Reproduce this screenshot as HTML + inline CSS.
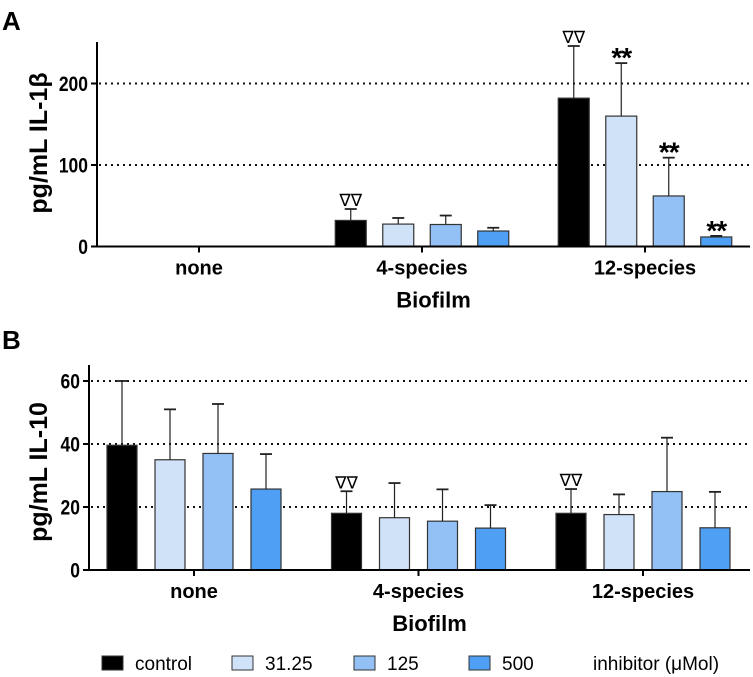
<!DOCTYPE html>
<html><head><meta charset="utf-8"><style>
html,body{margin:0;padding:0;background:#fff;}
svg{display:block;font-family:"Liberation Sans",Arial,sans-serif;}
</style></head><body>
<svg id="fig" width="753" height="677" viewBox="0 0 753 677" xmlns="http://www.w3.org/2000/svg">
<text x="2" y="30" font-size="26" font-weight="bold">A</text>
<text x="2" y="349" font-size="26" font-weight="bold">B</text>
<g id="chartA"></g>
<g id="chartB"></g>
<g id="legend"></g>
</svg>
<script>
const categories = ["none", "4-species", "12-species"];
const seriesNames = ["control", "31.25", "125", "500"];
const seriesColors = ["#000000", "#cfe2f8", "#93c0f5", "#4f9ff5"];
const aMeans = [[0.5, 32, 182], [0.5, 27.5, 160], [0.3, 27, 62], [0.3, 19, 11.7]];
const aErrTops = [[0.5, 46, 246], [0.5, 35, 225], [0.3, 38, 109], [0.3, 23, 13]];
const aTicks = [0, 100, 200];
const aMarks = [["", "∇∇", "∇∇"], ["", "", "**"], ["", "", "**"], ["", "", "**"]];
const bMeans = [[39.6, 18, 18], [35, 16.6, 17.6], [37, 15.5, 24.9], [25.7, 13.3, 13.4]];
const bErrTops = [[60, 25, 25.7], [51, 27.6, 24], [52.7, 25.6, 42], [36.8, 20.6, 24.8]];
const bTicks = [0, 20, 40, 60];
const bMarks = [["", "∇∇", "∇∇"], ["", "", ""], ["", "", ""], ["", "", ""]];

const NS = "http://www.w3.org/2000/svg";
function mk(parent, tag, attrs, text) {
  const e = document.createElementNS(NS, tag);
  for (const k in attrs) e.setAttribute(k, attrs[k]);
  if (text !== undefined) e.textContent = text;
  parent.appendChild(e);
  return e;
}

function drawChart(g, cfg, means, errs, ticks, marks) {
  const y = v => cfg.y0 - v / cfg.vmax * (cfg.y0 - cfg.yTopVal);
  const xc = i => cfg.x0c + i * cfg.step;
  const offs = [-1.5, -0.5, 0.5, 1.5];
  ticks.forEach(t => {
    if (t === 0) return;
    const l = mk(g, "line", {x1: cfg.ax + 2, x2: cfg.axEnd, y1: y(t), y2: y(t), stroke: "#111", "stroke-width": 2, "stroke-dasharray": "2 4"});
    
    
  });
  for (let s = 0; s < means.length; s++) {
    for (let c = 0; c < categories.length; c++) {
      const cx = xc(c) + offs[s] * cfg.bstep;
      const top = y(means[s][c]);
      const et = y(errs[s][c]);
      const r = mk(g, "rect", {x: cx - cfg.bw / 2, y: top, width: cfg.bw, height: Math.max(0.5, cfg.y0 - top), fill: seriesColors[s], stroke: "#333", "stroke-width": 1.2});
      
      
      if (errs[s][c] > means[s][c] + 0.3) {
        const e1 = mk(g, "line", {x1: cx, x2: cx, y1: top, y2: et, stroke: "#222", "stroke-width": 1.2});
        
        
        const e2 = mk(g, "line", {x1: cx - 6, x2: cx + 6, y1: et, y2: et, stroke: "#222", "stroke-width": 1.8});
        
        
      }
      const m = marks[s][c];
      if (m) {
        const isStar = m === "**";
        const t = mk(g, "text", {x: cx, y: et - (isStar ? -4 : 3), "text-anchor": "middle", "font-size": isStar ? 28 : 17, "font-weight": isStar ? "bold" : "normal", "letter-spacing": isStar ? "-1" : "0", fill: "#000"}, m);
        
        
      }
    }
  }
  const ya = mk(g, "line", {x1: cfg.ax, x2: cfg.ax, y1: cfg.axTop, y2: cfg.y0 + 1, stroke: "#000", "stroke-width": 2});
  
  
  const xa = mk(g, "line", {x1: cfg.ax - 1, x2: cfg.axEnd, y1: cfg.y0, y2: cfg.y0, stroke: "#000", "stroke-width": 2});
  
  
  ticks.forEach(t => {
    const tk = mk(g, "line", {x1: cfg.ax - 6, x2: cfg.ax, y1: y(t), y2: y(t), stroke: "#000", "stroke-width": 2});
    
    
    const tl = mk(g, "text", {x: cfg.ax - 9, y: y(t) + 7, "text-anchor": "end", "font-size": 19, "font-weight": "bold", "transform": "translate(" + (cfg.ax - 9) + ",0) scale(0.92,1.1) translate(" + (-(cfg.ax - 9)) + "," + (y(t) * (1 / 1.1 - 1)) + ")"}, String(t));
    
    
  });
  categories.forEach((c, i) => {
    const tk = mk(g, "line", {x1: xc(i), x2: xc(i), y1: cfg.y0, y2: cfg.y0 + 6, stroke: "#000", "stroke-width": 2});
    
    
    const tl = mk(g, "text", {x: xc(i), y: cfg.y0 + 28, "text-anchor": "middle", "font-size": 20, "font-weight": "bold"}, c);
    
    
  });
  const xt = mk(g, "text", {x: (cfg.ax + cfg.axEnd) / 2 + 10, y: cfg.y0 + 61, "text-anchor": "middle", "font-size": 22, "font-weight": "bold"}, "Biofilm");
  
  
  const yt = mk(g, "text", {x: 0, y: 0, "text-anchor": "middle", "font-size": 25, "font-weight": "bold", transform: "translate(" + cfg.ylx + "," + cfg.yly + ") rotate(-90)"}, cfg.ylabel);
  
  
}

drawChart(document.getElementById("chartA"),
  {y0: 246.5, yTopVal: 83.5, vmax: 200, ax: 97, axEnd: 750, axTop: 42, x0c: 199, step: 223, bstep: 47.5, bw: 31, ylx: 47, yly: 143, ylabel: "pg/mL IL-1β"},
  aMeans, aErrTops, aTicks, aMarks);
drawChart(document.getElementById("chartB"),
  {y0: 570, yTopVal: 381, vmax: 60, ax: 89, axEnd: 750, axTop: 365, x0c: 194, step: 224.5, bstep: 48, bw: 30, ylx: 47, yly: 472, ylabel: "pg/mL IL-10"},
  bMeans, bErrTops, bTicks, bMarks);

const lg = document.getElementById("legend");
const lx = [102, 232, 354, 469];
seriesNames.forEach((n, i) => {
  const r = mk(lg, "rect", {x: lx[i], y: 656, width: 21, height: 14, fill: seriesColors[i], stroke: "#333", "stroke-width": 1});
  
  
  const t = mk(lg, "text", {x: lx[i] + 33, y: 670, "font-size": 19}, n);
  
  
});
const it = mk(lg, "text", {x: 593, y: 670, "font-size": 19}, "inhibitor (μMol)");


</script>
</body></html>
